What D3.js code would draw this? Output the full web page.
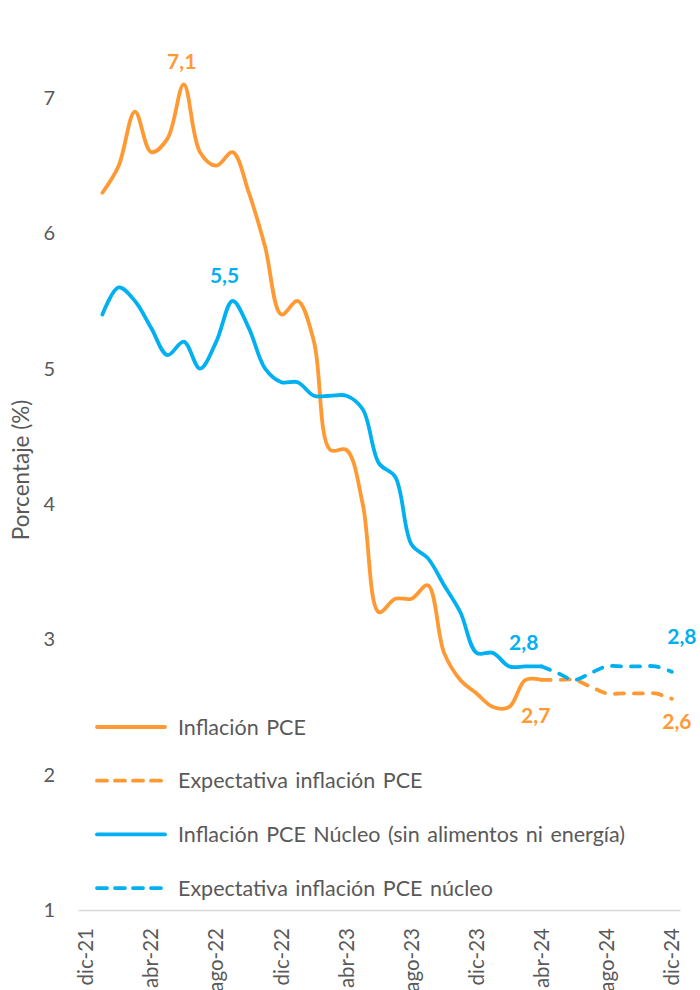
<!DOCTYPE html>
<html>
<head>
<meta charset="utf-8">
<script src="https://cdn.jsdelivr.net/npm/d3@7"></script>
<style>
  body { margin: 0; background: #fff; }
  svg { display: block; font-family: Lato, "Noto Sans", sans-serif; }
</style>
</head>
<body>
<div id="chart"></div>
<script>
const W = 700, H = 990;

// meses (dic-21 .. dic-24)
const months = [
  "dic-21",
  "ene-22", "feb-22", "mar-22", "abr-22", "may-22", "jun-22", "jul-22", "ago-22", "sep-22", "oct-22", "nov-22", "dic-22",
  "ene-23", "feb-23", "mar-23", "abr-23", "may-23", "jun-23", "jul-23", "ago-23", "sep-23", "oct-23", "nov-23", "dic-23",
  "ene-24", "feb-24", "mar-24", "abr-24", "may-24", "jun-24", "jul-24", "ago-24", "sep-24", "oct-24", "nov-24", "dic-24",
];
const tickMonths = ["dic-21", "abr-22", "ago-22", "dic-22", "abr-23", "ago-23", "dic-23", "abr-24", "ago-24", "dic-24"];
const yTicks = [1, 2, 3, 4, 5, 6, 7];

// observado: ene-22 .. abr-24
const obsMonths = months.slice(1, 29);
const pce = [6.3, 6.5, 6.9, 6.6, 6.7, 7.1, 6.6, 6.5, 6.6, 6.3, 5.9, 5.4,
             5.5, 5.2, 4.4, 4.4, 4.0, 3.2, 3.3, 3.3, 3.4, 2.9, 2.7, 2.6,
             2.5, 2.5, 2.7, 2.7];
const core = [5.4, 5.6, 5.5, 5.3, 5.1, 5.2, 5.0, 5.2, 5.5, 5.3, 5.0, 4.9,
              4.9, 4.8, 4.8, 4.8, 4.7, 4.3, 4.2, 3.7, 3.6, 3.4, 3.2, 2.9,
              2.9, 2.8, 2.8, 2.8];

// expectativas: abr-24 .. dic-24
const expMonths = months.slice(28);
const pceExp = [2.7, 2.7, 2.7, 2.65, 2.6, 2.6, 2.6, 2.6, 2.56];
const coreExp = [2.8, 2.75, 2.7, 2.75, 2.8, 2.8, 2.8, 2.8, 2.76];

const ORANGE = "#FF9933";
const BLUE = "#00B0F0";
const GRAY = "#595959";

const series = [
  { name: "Inflación PCE", months: obsMonths, values: pce, color: ORANGE, dashed: false },
  { name: "Expectativa inflación PCE", months: expMonths, values: pceExp, color: ORANGE, dashed: true },
  { name: "Inflación PCE Núcleo (sin alimentos ni energía)", months: obsMonths, values: core, color: BLUE, dashed: false },
  { name: "Expectativa inflación PCE núcleo", months: expMonths, values: coreExp, color: BLUE, dashed: true },
];

// etiquetas de datos: serie, mes, desplazamiento
const labels = [
  { s: 0, m: "jun-22", dx: -2, dy: -23 },
  { s: 2, m: "sep-22", dx: -8, dy: -25 },
  { s: 2, m: "abr-24", dx: -18, dy: -24 },
  { s: 0, m: "abr-24", dx: -6, dy: 36 },
  { s: 3, m: "dic-24", dx: 10, dy: -35 },
  { s: 1, m: "dic-24", dx: 5, dy: 23 },
];

const x = d3.scaleBand().domain(months).range([78, 680]);
const xc = (m) => x(m) + x.bandwidth() / 2;
const y = d3.scaleLinear().domain([1, 7]).range([910, 98]);

const svg = d3.select("#chart").append("svg").attr("width", W).attr("height", H);

// eje Y
const gy = svg.append("g").attr("transform", "translate(55,0)")
  .call(d3.axisLeft(y).tickValues(yTicks).tickSize(0).tickPadding(0).tickFormat(d3.format("d")));
gy.select(".domain").remove();
gy.selectAll("text").attr("fill", GRAY).style("font-size", "20px").style("font-family", "Lato");

svg.append("text")
  .attr("transform", "translate(21,470) rotate(-90)")
  .attr("text-anchor", "middle").attr("dy", "0.35em")
  .attr("fill", GRAY).style("font-size", "22.5px")
  .text("Porcentaje (%)");

// eje X
const gx = svg.append("g").attr("transform", "translate(0,910)")
  .call(d3.axisBottom(x).tickValues(tickMonths).tickSize(0).tickSizeOuter(0));
gx.select(".domain").attr("stroke", "#D9D9D9").attr("stroke-width", 1.3);
gx.selectAll("text")
  .attr("fill", GRAY).style("font-size", "20.5px").style("font-family", "Lato")
  .attr("x", 0).attr("y", 0).attr("dy", "0.35em")
  .attr("text-anchor", "end")
  .attr("transform", "translate(0,18) rotate(-90)");

// líneas
const line = d3.line()
  .x((d) => xc(d[0]))
  .y((d) => y(d[1]))
  .curve(d3.curveCatmullRom.alpha(0.5));

svg.append("g").selectAll("path").data(series).join("path")
  .attr("d", (s) => line(s.months.map((m, i) => [m, s.values[i]])))
  .attr("fill", "none")
  .attr("stroke", (s) => s.color)
  .attr("stroke-width", 3.8)
  .attr("stroke-linecap", "round")
  .attr("stroke-linejoin", "round")
  .attr("stroke-dasharray", (s) => (s.dashed ? "9 10" : null));

// etiquetas
const fmt = (v) => d3.format(".1f")(v).replace(".", ",");
svg.append("g").selectAll("text").data(labels).join("text")
  .attr("x", (d) => xc(d.m) + d.dx)
  .attr("y", (d) => y(series[d.s].values[series[d.s].months.indexOf(d.m)]) + d.dy)
  .attr("dy", "0.35em")
  .attr("text-anchor", "middle")
  .attr("fill", (d) => series[d.s].color)
  .style("font-size", "21px").style("font-weight", "bold")
  .text((d) => fmt(series[d.s].values[series[d.s].months.indexOf(d.m)]));

// leyenda
const legend = svg.append("g").selectAll("g").data(series).join("g")
  .attr("transform", (d, i) => `translate(96,${727 + i * 53.7})`);
legend.append("line")
  .attr("x1", 1).attr("x2", 69)
  .attr("stroke", (d) => d.color)
  .attr("stroke-width", 3.8)
  .attr("stroke-linecap", "round")
  .attr("stroke-dasharray", (d) => (d.dashed ? "10 8" : null));
legend.append("text")
  .attr("x", 82).attr("dy", "0.35em")
  .attr("fill", GRAY).style("font-size", "21.5px").style("word-spacing", "2px")
  .text((d) => d.name);
</script>
</body>
</html>
